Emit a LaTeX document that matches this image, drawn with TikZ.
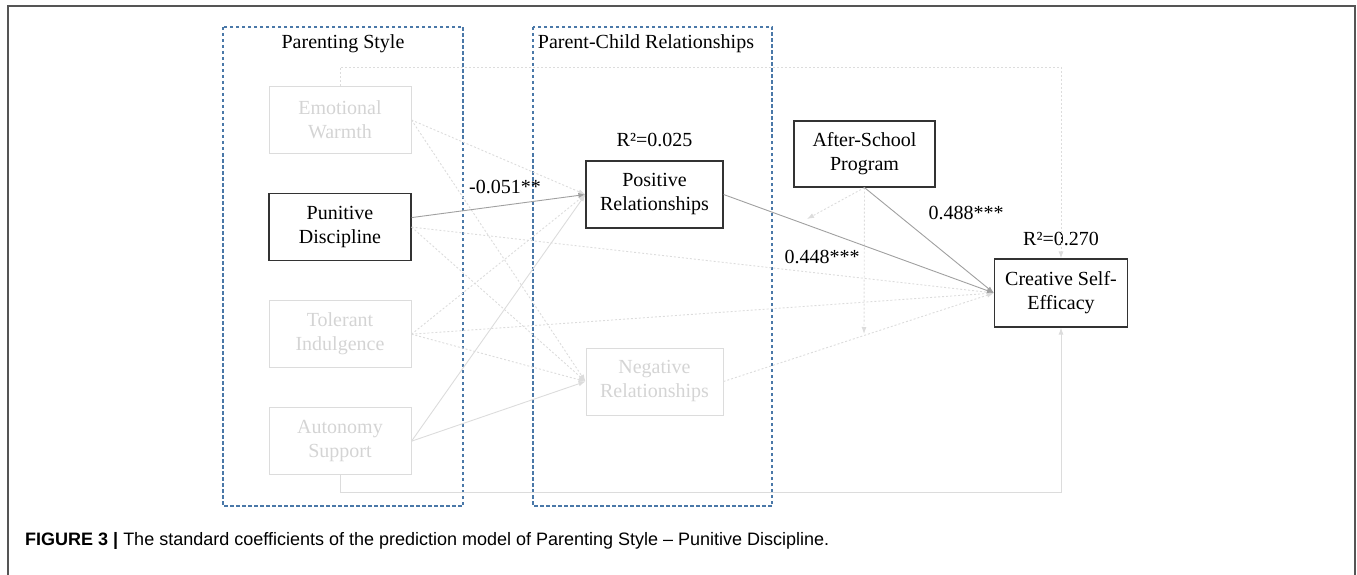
\documentclass[tikz,border=0pt]{standalone}
\usepackage{fontspec}
\setmainfont{Liberation Serif}
\newfontfamily\capfont{Liberation Sans}
\usepackage{tikz}
\usetikzlibrary{positioning}
\usetikzlibrary{arrows.meta}
\usetikzlibrary{calc}
\definecolor{faint}{HTML}{DCDCDC}
\definecolor{fainttext}{HTML}{D4D4D4}
\definecolor{pathgray}{HTML}{A0A0A0}
\definecolor{groupblue}{HTML}{4A78A8}
\definecolor{framegray}{HTML}{555555}
\tikzset{>={Latex[length=7pt,width=5pt]}}
\tikzstyle{var} = [draw=black!80, line width=1.2pt, minimum width=142pt,
  minimum height=67pt, align=center, inner sep=2pt,
  font=\fontsize{20}{24}\selectfont]
\tikzstyle{fadedvar} = [var, draw=faint, text=fainttext, line width=1pt]
\tikzstyle{group} = [draw=groupblue, line width=1.1pt, dash pattern=on 3.5pt off 2.5pt]
\tikzstyle{line} = [draw, ->, color=pathgray, line width=0.9pt]
\tikzstyle{fadedline} = [draw, ->, color=faint, line width=0.9pt, dash pattern=on 2pt off 2pt]
\tikzstyle{fadedsolid} = [draw, ->, color=faint, line width=0.9pt]
\tikzstyle{coef} = [font=\fontsize{20}{24}\selectfont, inner sep=1pt]

\begin{document}
\begin{tikzpicture}[x=1pt, y=-1pt]
    \useasboundingbox (0,0) rectangle (1357,575);
    %% frame
    \draw [framegray, line width=1.5pt] (8,575) -- (8,6) -- (1355,6) -- (1355,575);
    %% groups
    \draw [group] (223,27) rectangle (463,506);
    \draw [group] (533,27) rectangle (772,506);
    \node [coef] (StyleTitle) at (343,44) {Parenting Style};
    \node [coef] (RelTitle) at (646,44) {Parent-Child Relationships};
    %% Parenting style
    \node [fadedvar] (EW) at (340,120) {Emotional\\Warmth};
    \node [var, below=39pt of EW] (PD) {Punitive\\Discipline};
    \node [fadedvar, below=39pt of PD] (TI) {Tolerant\\Indulgence};
    \node [fadedvar, below=39pt of TI] (AS) {Autonomy\\Support};
    %% Relationships
    \node [var, minimum width=137pt] (PR) at (654.5,194.5) {Positive\\Relationships};
    \node [fadedvar, minimum width=137pt] (NR) at (654.5,381.5) {Negative\\Relationships};
    \node [coef, above=12pt of PR] (R2PR) {R²=0.025};
    %% Outcome and moderator
    \node [var, minimum width=141pt, minimum height=66pt] (ASP) at (864.5,154) {After-School\\Program};
    \node [var, minimum width=133pt, minimum height=68pt] (CSE) at (1061,293) {Creative Self-\\Efficacy};
    \node [coef, above=11pt of CSE] (R2CSE) {R²=0.270};
    \coordinate (ModA) at (807,219);
    \coordinate (ModB) at (864,334);
    \coordinate (TopL) at (340,67);
    \coordinate (TopR) at (1061,67);
    \coordinate (BotL) at (340,492);
    \coordinate (BotR) at (1061,492);
    %% Faded flows
    \path [fadedline] (EW.east) -- (PR.west);
    \path [fadedline] (EW.east) -- (NR.west);
    \path [fadedline] (PD.east) -- (NR.west);
    \path [fadedline] (PD.east) -- (CSE.west);
    \path [fadedline] (TI.east) -- (PR.west);
    \path [fadedline] (TI.east) -- (NR.west);
    \path [fadedline] (TI.east) -- (CSE.west);
    \path [fadedline] (NR.east) -- (CSE.west);
    \path [fadedline] (ASP.south) -- (ModA);
    \path [fadedline] (ASP.south) -- (ModB);
    \path [fadedline] (EW.north) -- (TopL) -- (TopR) -- (CSE.north);
    \path [fadedsolid] (AS.east) -- (PR.west);
    \path [fadedsolid] (AS.east) -- (NR.west);
    \path [fadedsolid] (AS.south) -- (BotL) -- (BotR) -- (CSE.south);
    %% Flows
    \path [line] (PD) -- (PR.west);
    \path [line] (PR.east) -- (CSE.west);
    \path [line] (ASP.south) -- (CSE.west);
    \node [coef] (CoefA) at (505,187) {-0.051**};
    \node [coef] (CoefB) at (822,257) {0.448***};
    \node [coef] (CoefC) at (966,213) {0.488***};
    %% caption
    \node [anchor=west, inner sep=0pt, font=\capfont\fontsize{18}{22}\selectfont] (Caption) at (25,541)
      {\textbf{FIGURE 3 |} The standard coefficients of the prediction model of Parenting Style – Punitive Discipline.};
  \end{tikzpicture}
\end{document}
